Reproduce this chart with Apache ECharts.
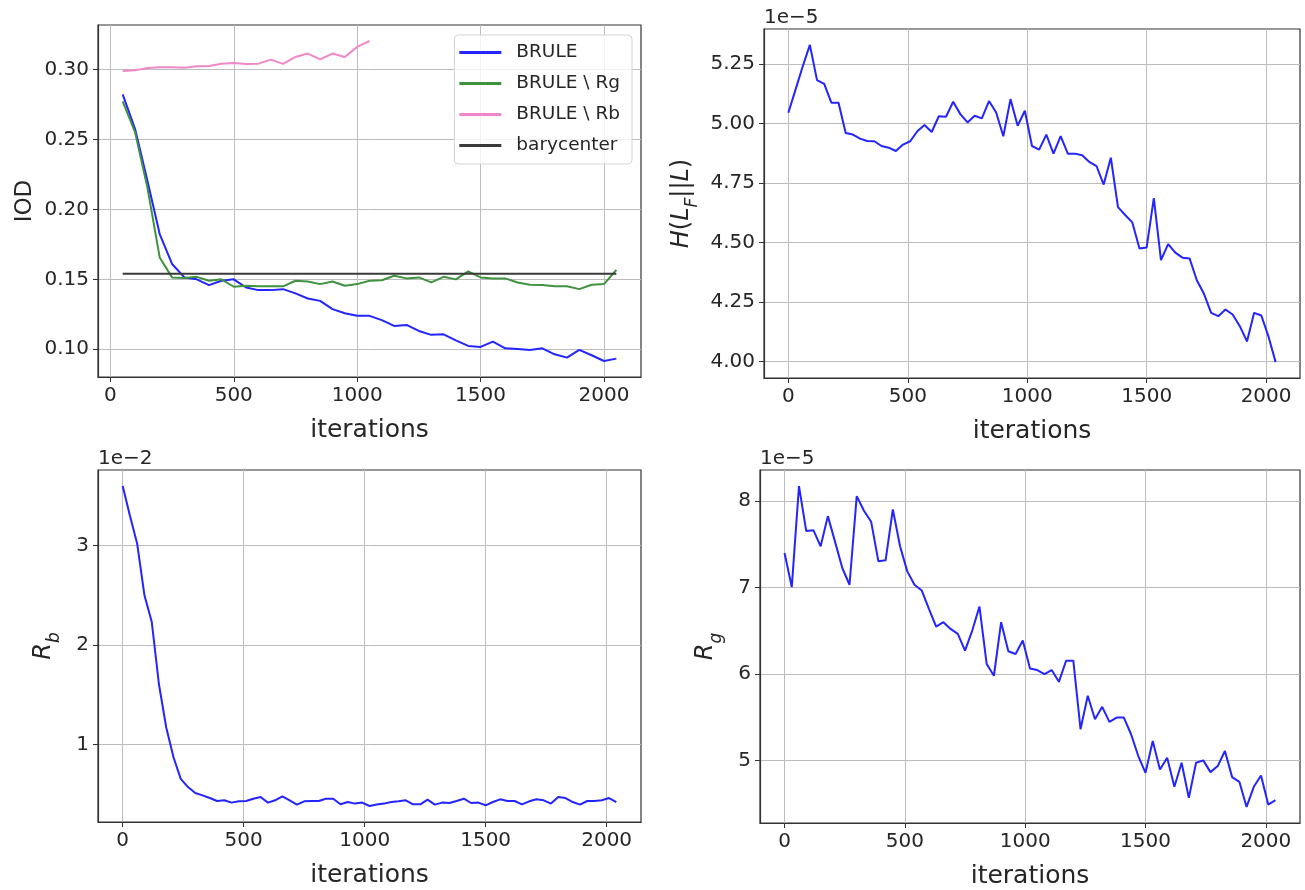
<!DOCTYPE html>
<html>
<head>
<meta charset="utf-8">
<script src="https://cdn.jsdelivr.net/npm/echarts@6/dist/echarts.min.js"></script>
<style>
html,body{margin:0;padding:0;background:#fff;}
#chart{width:1305px;height:890px;}
</style>
</head>
<body>
<div id="chart"></div>
<script>
// ---------- data ----------
const iterA = [50,100,150,200,250,300,350,400,450,500,550,600,650,700,750,800,850,900,950,1000,1050,1100,1150,1200,1250,1300,1350,1400,1450,1500,1550,1600,1650,1700,1750,1800,1850,1900,1950,2000,2050];
const iodBrule = [0.2823,0.2577,0.2207,0.1824,0.1610,0.1514,0.1500,0.1459,0.1490,0.1500,0.1442,0.1423,0.1423,0.1430,0.1400,0.1363,0.1346,0.1287,0.1258,0.1239,0.1239,0.1208,0.1167,0.1174,0.1131,0.1103,0.1107,0.1064,0.1024,0.1017,0.1055,0.1007,0.1002,0.0995,0.1007,0.0964,0.0940,0.0995,0.0957,0.0916,0.0933];
const iodNoRg = [0.2773,0.2553,0.2159,0.1657,0.1514,0.1510,0.1518,0.1490,0.1500,0.1447,0.1454,0.1450,0.1450,0.1450,0.1490,0.1485,0.1466,0.1485,0.1454,0.1466,0.1490,0.1494,0.1526,0.1507,0.1514,0.1478,0.1518,0.1500,0.1557,0.1514,0.1507,0.1507,0.1478,0.1461,0.1459,0.1450,0.1450,0.1430,0.1461,0.1466,0.1567];
const iterRb = [50,100,150,200,250,300,350,400,450,500,550,600,650,700,750,800,850,900,950,1000,1050];
const iodNoRb = [0.2990,0.2995,0.3012,0.3017,0.3017,0.3014,0.3024,0.3026,0.3043,0.3048,0.3041,0.3043,0.3072,0.3041,0.3091,0.3115,0.3074,0.3115,0.3091,0.3163,0.3205];
const iterBary = [50,2050];
const iodBary = [0.154,0.154];

const iterB = [0,30,60,90,120,150,180,210,240,270,300,330,360,390,420,450,480,510,540,570,600,630,660,690,720,750,780,810,840,870,900,930,960,990,1020,1050,1080,1110,1140,1170,1200,1230,1260,1290,1320,1350,1380,1410,1440,1470,1500,1530,1560,1590,1620,1650,1680,1710,1740,1770,1800,1830,1860,1890,1920,1950,1980,2010,2040];
// H(L_F||L) in units of 1e-5
const hVal = [5.045,5.142,5.239,5.330,5.182,5.166,5.087,5.087,4.960,4.953,4.936,4.926,4.925,4.905,4.898,4.884,4.911,4.925,4.967,4.993,4.964,5.030,5.028,5.091,5.039,5.004,5.032,5.021,5.094,5.046,4.946,5.102,4.990,5.053,4.905,4.890,4.953,4.873,4.947,4.873,4.873,4.866,4.838,4.821,4.743,4.856,4.648,4.615,4.584,4.474,4.479,4.686,4.426,4.493,4.457,4.436,4.432,4.341,4.284,4.204,4.190,4.218,4.197,4.148,4.084,4.204,4.193,4.105,3.997];
// R_b in units of 1e-2
const rbVal = [3.598,3.299,3.017,2.50,2.236,1.605,1.173,0.874,0.658,0.575,0.515,0.492,0.465,0.435,0.442,0.419,0.432,0.435,0.458,0.475,0.419,0.442,0.482,0.442,0.399,0.432,0.435,0.435,0.458,0.458,0.402,0.425,0.409,0.419,0.385,0.399,0.409,0.425,0.432,0.442,0.402,0.402,0.449,0.399,0.419,0.415,0.435,0.458,0.415,0.419,0.392,0.425,0.452,0.435,0.435,0.402,0.432,0.452,0.442,0.409,0.475,0.465,0.425,0.399,0.435,0.435,0.442,0.465,0.425];
// R_g in units of 1e-5
const rgVal = [7.400,7.005,8.174,7.655,7.663,7.477,7.826,7.528,7.226,7.032,8.058,7.888,7.760,7.303,7.315,7.903,7.477,7.187,7.032,6.966,6.753,6.548,6.599,6.521,6.463,6.270,6.502,6.780,6.115,5.979,6.599,6.262,6.231,6.386,6.064,6.045,5.998,6.045,5.909,6.153,6.153,5.360,5.747,5.476,5.619,5.445,5.495,5.495,5.302,5.050,4.856,5.224,4.895,5.031,4.694,4.973,4.566,4.973,5.000,4.864,4.934,5.108,4.806,4.752,4.461,4.694,4.825,4.489,4.539];

const xTicks = [0,500,1000,1500,2000];
const iodTicks = [0.10,0.15,0.20,0.25,0.30];
const hTicks = [4.00,4.25,4.50,4.75,5.00,5.25];
const rbTicks = [1,2,3];
const rgTicks = [5,6,7,8];
const legendNames = ['BRULE','BRULE \\ Rg','BRULE \\ Rb','barycenter'];

// ---------- styling ----------
const FONT = 'DejaVu Sans';
const TXT = '#262626';
const BLUE = '#2424ff', GREEN = '#3f923f', PINK = '#f087c8', BLACK = '#3a3a3a';

function pad(arrs){
  let lo=Infinity, hi=-Infinity;
  arrs.forEach(a=>a.forEach(v=>{if(v<lo)lo=v;if(v>hi)hi=v;}));
  const r=hi-lo; return [lo-0.05*r, hi+0.05*r];
}
function zip(xs, ys){ return xs.map((x,i)=>[x, ys[i]]); }

const grids = [
  {left:98, top:25, width:543, height:352},
  {left:764, top:29, width:536, height:349},
  {left:98, top:470, width:543, height:352},
  {left:760, top:470, width:540, height:353}
].map(g=>Object.assign({show:true, borderColor:'#333', borderWidth:1.2, backgroundColor:'transparent'}, g));

function xAxis(gi, range){
  return {
    type:'value', gridIndex:gi, min:range[0], max:range[1],
    axisLine:{show:true, onZero:false, lineStyle:{color:'#333', width:1.2}},
    axisTick:{show:true, inside:false, length:5, customValues:xTicks, lineStyle:{color:'#333', width:1}},
    axisLabel:{customValues:xTicks, fontSize:20, color:TXT, fontFamily:FONT, margin:9, formatter:v=>String(v)},
    splitLine:{show:true, lineStyle:{color:'#bdbdbd', width:1}},
    name:'iterations', nameLocation:'middle', nameGap:41,
    nameTextStyle:{fontSize:25, color:TXT, fontFamily:FONT}
  };
}
function yAxis(gi, range, ticks, fmt, name, nameGap, rich){
  const o = {
    type:'value', gridIndex:gi, min:range[0], max:range[1],
    axisLine:{show:true, onZero:false, lineStyle:{color:'#333', width:1.2}},
    axisTick:{show:true, inside:false, length:5, customValues:ticks, lineStyle:{color:'#333', width:1}},
    axisLabel:{customValues:ticks, fontSize:20, color:TXT, fontFamily:FONT, margin:9, formatter:fmt},
    splitLine:{show:true, lineStyle:{color:'#bdbdbd', width:1}},
    name:name, nameLocation:'middle', nameGap:nameGap, nameRotate:90,
    nameTextStyle:{fontSize:23, color:TXT, fontFamily:FONT}
  };
  if (rich) o.nameTextStyle.rich = rich;
  return o;
}
const mathRich = {
  i:{fontSize:24, fontStyle:'italic', fontFamily:FONT, color:TXT, verticalAlign:'top', lineHeight:28},
  n:{fontSize:24, fontFamily:FONT, color:TXT, verticalAlign:'top', lineHeight:28},
  s:{fontSize:17, fontStyle:'italic', fontFamily:FONT, color:TXT, verticalAlign:'top', lineHeight:17, padding:[14,0,0,0]}
};

const f2 = v => v.toFixed(2);
const f0 = v => String(Math.round(v));

function line(name, gi, xs, ys, color, z){
  return {type:'line', name:name, xAxisIndex:gi, yAxisIndex:gi, data:zip(xs, ys),
    showSymbol:false, symbol:'none', animation:false, z:z||2,
    lineStyle:{width:2, color:color}, itemStyle:{color:color}};
}

const option = {
  animation:false,
  grid: grids,
  xAxis: [
    xAxis(0, pad([iterA])),
    xAxis(1, pad([iterB])),
    xAxis(2, pad([iterB])),
    xAxis(3, pad([iterB]))
  ],
  yAxis: [
    yAxis(0, pad([iodBrule, iodNoRg, iodNoRb, iodBary]), iodTicks, f2, 'IOD', 61),
    yAxis(1, pad([hVal]), hTicks, f2, '{i|H}{n|(}{i|L}{s|F}{n|||}{i|L}{n|)}', 66, mathRich),
    yAxis(2, pad([rbVal]), rbTicks, f0, '{i|R}{s|b}', 38, mathRich),
    yAxis(3, pad([rgVal]), rgTicks, f0, '{i|R}{s|g}', 38, mathRich)
  ],
  legend: {
    data: legendNames, orient:'vertical', right:673, top:35,
    icon:'rect', itemWidth:42, itemHeight:3, itemGap:12,
    padding:[8,12,9,5], borderColor:'#d4d4d4', borderWidth:1, borderRadius:4,
    backgroundColor:'rgba(255,255,255,0.8)',
    textStyle:{fontSize:18.5, color:TXT, fontFamily:FONT, padding:[0,0,0,10]}
  },
  graphic: [
    {type:'text', left:764, top:8, style:{text:'1e\u22125', fontSize:20, fill:TXT, fontFamily:FONT}},
    {type:'text', left:98, top:449, style:{text:'1e\u22122', fontSize:20, fill:TXT, fontFamily:FONT}},
    {type:'text', left:760, top:449, style:{text:'1e\u22125', fontSize:20, fill:TXT, fontFamily:FONT}}
  ],
  series: [
    line('BRULE', 0, iterA, iodBrule, BLUE),
    line('BRULE \\ Rg', 0, iterA, iodNoRg, GREEN),
    line('BRULE \\ Rb', 0, iterRb, iodNoRb, PINK),
    line('barycenter', 0, iterBary, iodBary, BLACK),
    line('H', 1, iterB, hVal, BLUE),
    line('Rb', 2, iterB, rbVal, BLUE),
    line('Rg', 3, iterB, rgVal, BLUE)
  ]
};

const chart = echarts.init(document.getElementById('chart'), null, {renderer:'canvas'});
chart.setOption(option);
</script>
</body>
</html>
